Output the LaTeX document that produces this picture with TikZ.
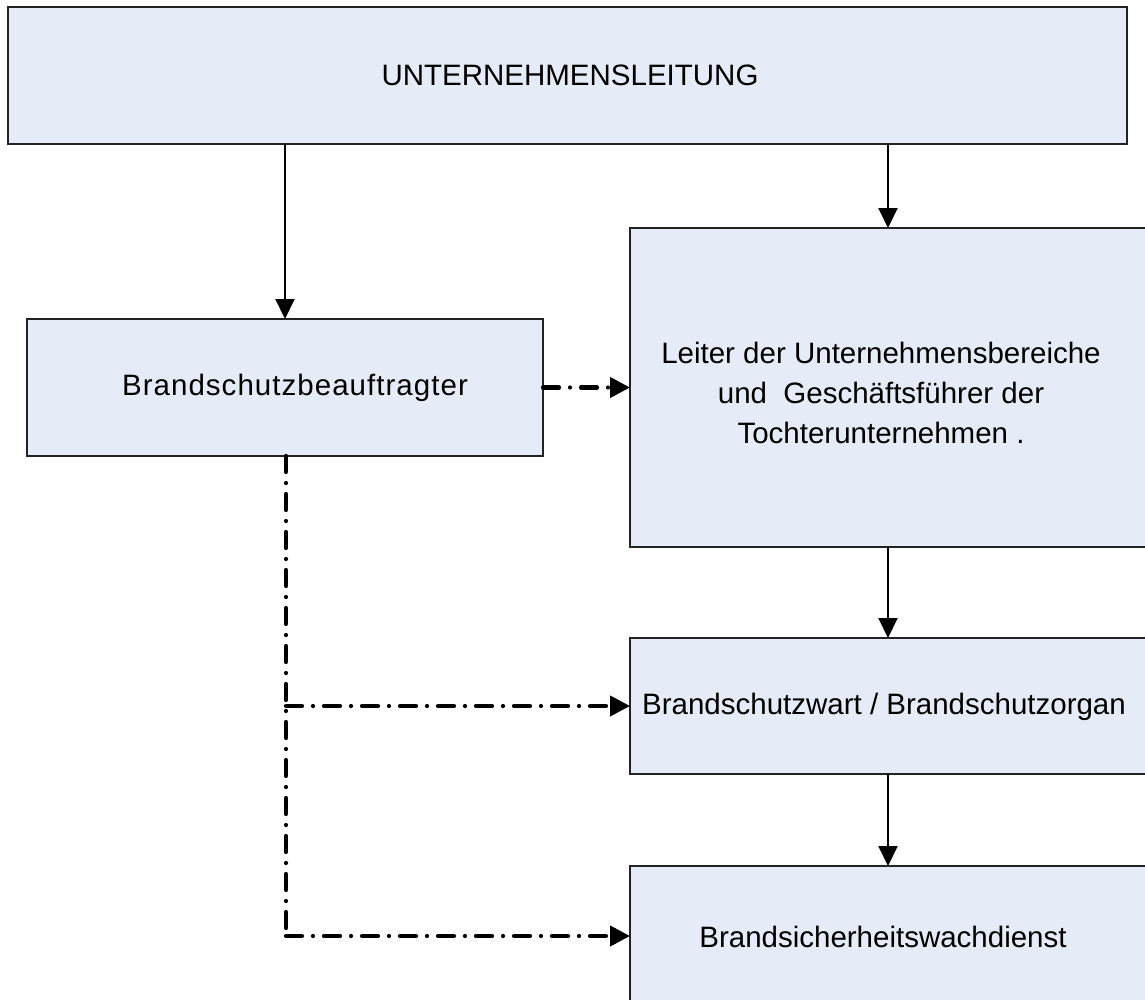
\documentclass[tikz,border=0pt]{standalone}
\usepackage{fontspec}
\setmainfont{Liberation Sans}
\usetikzlibrary{arrows.meta,calc}
\definecolor{boxfill}{RGB}{230,236,247}
\definecolor{boxline}{RGB}{35,35,35}
\begin{document}
\begin{tikzpicture}[x=1pt,y=-1pt,
  box/.style={draw=boxline,fill=boxfill,line width=1.3pt,inner sep=0pt,outer sep=0pt,anchor=north west},
  lbl/.style={font=\fontsize{29.5}{40}\selectfont,align=center,inner sep=0pt},
  solidarrow/.style={line width=2pt,-{Triangle[length=20pt,width=19pt]}},
  dashline/.style={line width=4.2pt,line cap=round,dash pattern=on 16pt off 11pt on 0pt off 11pt},
  dasharrow/.style={dashline,-{Triangle[length=20pt,width=20pt]}}]
\useasboundingbox (0,0) rectangle (1145,999);
% boxes
\node[box,minimum width=1119pt,minimum height=137pt] (top) at (8,7) {};
\node[box,minimum width=516pt,minimum height=137pt] (bsb) at (27,319) {};
\node[box,minimum width=530pt,minimum height=319pt] (r1) at (630,228) {};
\node[box,minimum width=530pt,minimum height=136pt] (r2) at (630,638) {};
\node[box,minimum width=530pt,minimum height=140pt] (r3) at (630,866) {};
% labels
\node[lbl] (ttop) at (570,75) {UNTERNEHMENSLEITUNG};
\node[lbl] (tbsb) at (295,388) {\addfontfeature{LetterSpace=3.5}Brandschutzbeauftragter};
\node[lbl] (tr1) at (881,393) {Leiter der Unternehmensbereiche\\und\ \ Geschäftsführer der\\Tochterunternehmen .};
\node[lbl] (tr2) at (884,707) {Brandschutzwart / Brandschutzorgan};
\node[lbl] (tr3) at (883,937) {Brandsicherheitswachdienst};
% solid connectors
\coordinate (cx) at (888,0);
\draw[solidarrow] (top.south -| bsb.north) -- (bsb.north);
\draw[solidarrow] (top.south -| cx) -- (r1.north -| cx);
\draw[solidarrow] (r1.south -| cx) -- (r2.north -| cx);
\draw[solidarrow] (r2.south -| cx) -- (r3.north -| cx);
% dash-dot connectors
\coordinate (v) at (286,0);
\coordinate (j2) at (v |- r2.west);
\coordinate (j3) at (v |- r3.west);
\draw[dasharrow] (bsb.east) -- (r1.west |- bsb.east);
\draw[dashline] (bsb.south -| v) -- (j3);
\draw[dasharrow] (j2) -- (r2.west);
\draw[dasharrow] (j3) -- (r3.west);
\end{tikzpicture}
\end{document}
